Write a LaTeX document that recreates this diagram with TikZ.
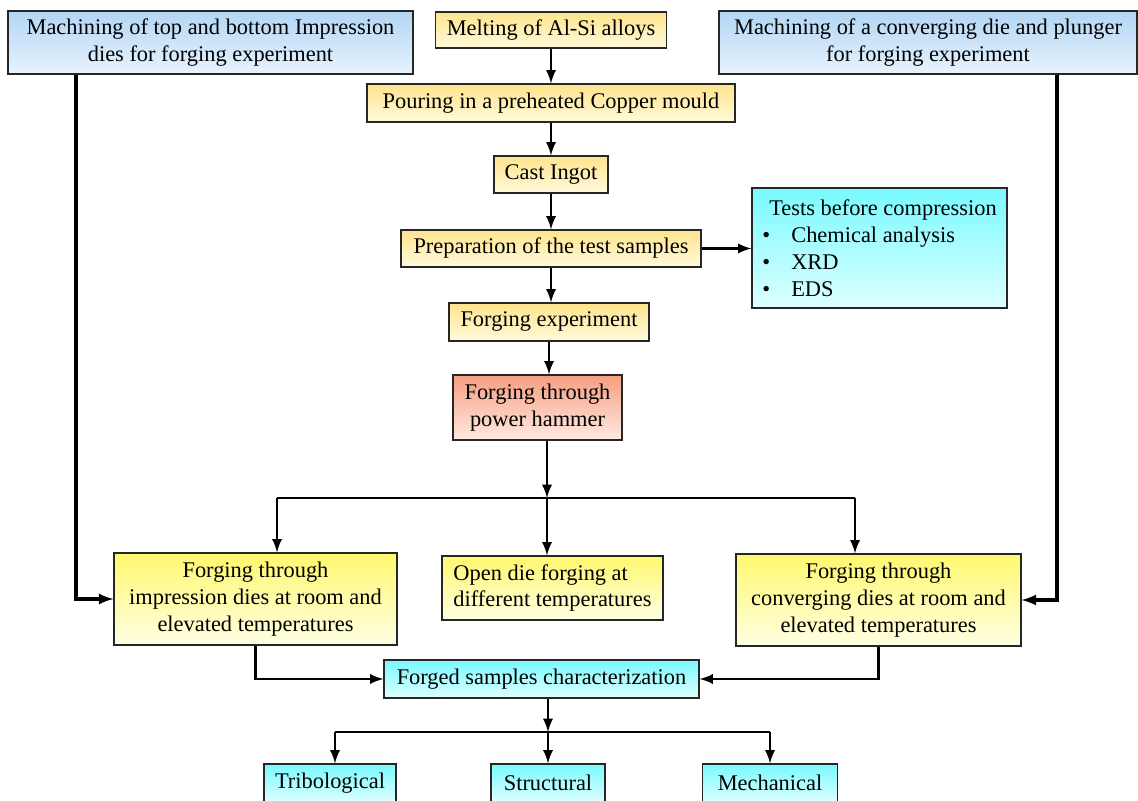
\documentclass[tikz,border=0pt]{standalone}
\usepackage{fontspec}
\setmainfont{Liberation Serif}
\definecolor{blueTop}{RGB}{178,214,245}
\definecolor{blueBot}{RGB}{232,243,253}
\definecolor{ylwTop}{RGB}{255,228,140}
\definecolor{ylwBot}{RGB}{255,250,220}
\definecolor{lemTop}{RGB}{255,248,110}
\definecolor{lemBot}{RGB}{255,255,228}
\definecolor{cyaTop}{RGB}{120,250,255}
\definecolor{cyaBot}{RGB}{222,255,255}
\definecolor{redTop}{RGB}{246,158,128}
\definecolor{redBot}{RGB}{255,234,225}

\begin{document}
\begin{tikzpicture}[
	font=\fontsize{12.75}{15.3}\selectfont,
	box/.style={draw=black!85, line width=0.7pt, align=center, inner sep=1pt},
	bluebox/.style={box, top color=blueTop, bottom color=blueBot},
	ylwbox/.style={box, top color=ylwTop, bottom color=ylwBot},
	lembox/.style={box, top color=lemTop, bottom color=lemBot},
	cyabox/.style={box, top color=cyaTop, bottom color=cyaBot},
	redbox/.style={box, top color=redTop, bottom color=redBot},
	conn/.style={line width=1.6pt},
	flow/.style={conn, -latex}]
				\useasboundingbox (0,0) rectangle (22.76,16);
				\clip (0,0) rectangle (22.76,16);
				
				\node[bluebox, minimum width=8.1cm, minimum height=1.26cm] (machL) at (4.21,15.15) {Machining of top and bottom Impression\\dies for forging experiment};
				\node[ylwbox, minimum width=4.62cm, minimum height=0.72cm] (melt) at (11.02,15.4) {Melting of Al-Si alloys};
				\node[bluebox, minimum width=8.36cm, minimum height=1.26cm] (machR) at (18.56,15.15) {Machining of a converging die and plunger\\for forging experiment};
				
				\node[ylwbox, minimum width=7.36cm, minimum height=0.76cm] (pour) at (11.02,13.94) {Pouring in a preheated Copper mould};
				\node[ylwbox, minimum width=2.28cm, minimum height=0.74cm] (cast) at (11.02,12.51) {Cast Ingot};
				\node[ylwbox, minimum width=6.0cm, minimum height=0.74cm] (prep) at (11.02,11.03) {Preparation of the test samples};
				\node[cyabox, align=left, minimum width=5.1cm, minimum height=2.4cm] (tests) at (17.59,11.04) {\hspace*{0.14cm}Tests before compression\\\makebox[0.58cm][l]{\textbullet}Chemical analysis\\\makebox[0.58cm][l]{\textbullet}XRD\\\makebox[0.58cm][l]{\textbullet}EDS};
				\node[ylwbox, minimum width=4.0cm, minimum height=0.76cm] (forge) at (10.98,9.56) {Forging experiment};
				\node[redbox, minimum width=3.38cm, minimum height=1.3cm] (hammer) at (10.75,7.85) {Forging through\\power hammer};
				
				\node[lembox, minimum width=5.66cm, minimum height=1.84cm] (imp) at (5.11,4.02) {Forging through\\impression dies at room and\\elevated temperatures};
				\node[lembox, align=left, minimum width=4.42cm, minimum height=1.28cm] (open) at (11.05,4.24) {Open die forging at\\different temperatures};
				\node[lembox, minimum width=5.7cm, minimum height=1.84cm] (conv) at (17.57,4.0) {Forging through\\converging dies at room and\\elevated temperatures};
				
				\node[cyabox, minimum width=6.3cm, minimum height=0.76cm] (forged) at (10.83,2.42) {Forged samples characterization};
				\node[cyabox, minimum width=2.64cm, minimum height=0.76cm] (tribo) at (6.6,0.34) {Tribological};
				\node[cyabox, minimum width=2.28cm, minimum height=0.76cm] (struct) at (10.96,0.34) {Structural};
				\node[cyabox, minimum width=2.7cm, minimum height=0.76cm] (mech) at (15.4,0.34) {Mechanical};
				
				\coordinate (feedL) at (1.52,0);
				\coordinate (feedR) at (21.14,0);
				\coordinate (split) at (10.94,6.04);
				\coordinate (splitL) at (5.54,6.04);
				\coordinate (splitR) at (17.1,6.04);
				\coordinate (split2) at (10.96,1.36);
				\coordinate (split2L) at (6.7,1.36);
				\coordinate (split2R) at (15.4,1.36);
				
				\draw[flow] (melt) -- (pour);
				\draw[flow] (pour) -- (cast);
				\draw[flow] (cast) -- (prep);
				\draw[flow] (prep.east) -- (prep.east -| tests.west);
				\draw[flow] (prep.south) -- (prep.south |- forge.north);
				\draw[flow] (forge.south) -- (forge.south |- hammer.north);
				\draw[flow] (hammer.south -| split) -- (split);
				
				\draw[conn] (splitL) -- (splitR);
				\draw[flow] (splitL) -- (splitL |- imp.north);
				\draw[flow] (split) -- (split |- open.north);
				\draw[flow] (splitR) -- (splitR |- conv.north);
				
				\draw[flow, line width=1.8pt] (machL.south -| feedL) |- (imp.west);
				\draw[flow, line width=1.8pt] (machR.south -| feedR) |- (conv.east);
				
				\draw[flow] (imp.south) |- (forged.west);
				\draw[flow] (conv.south) |- (forged.east);
				\draw[flow] (forged.south -| split2) -- (split2);
				
				\draw[conn] (split2L) -- (split2R);
				\draw[flow] (split2L) -- (split2L |- tribo.north);
				\draw[flow] (split2) -- (split2 |- struct.north);
				\draw[flow] (split2R) -- (split2R |- mech.north);
			\end{tikzpicture}
\end{document}
